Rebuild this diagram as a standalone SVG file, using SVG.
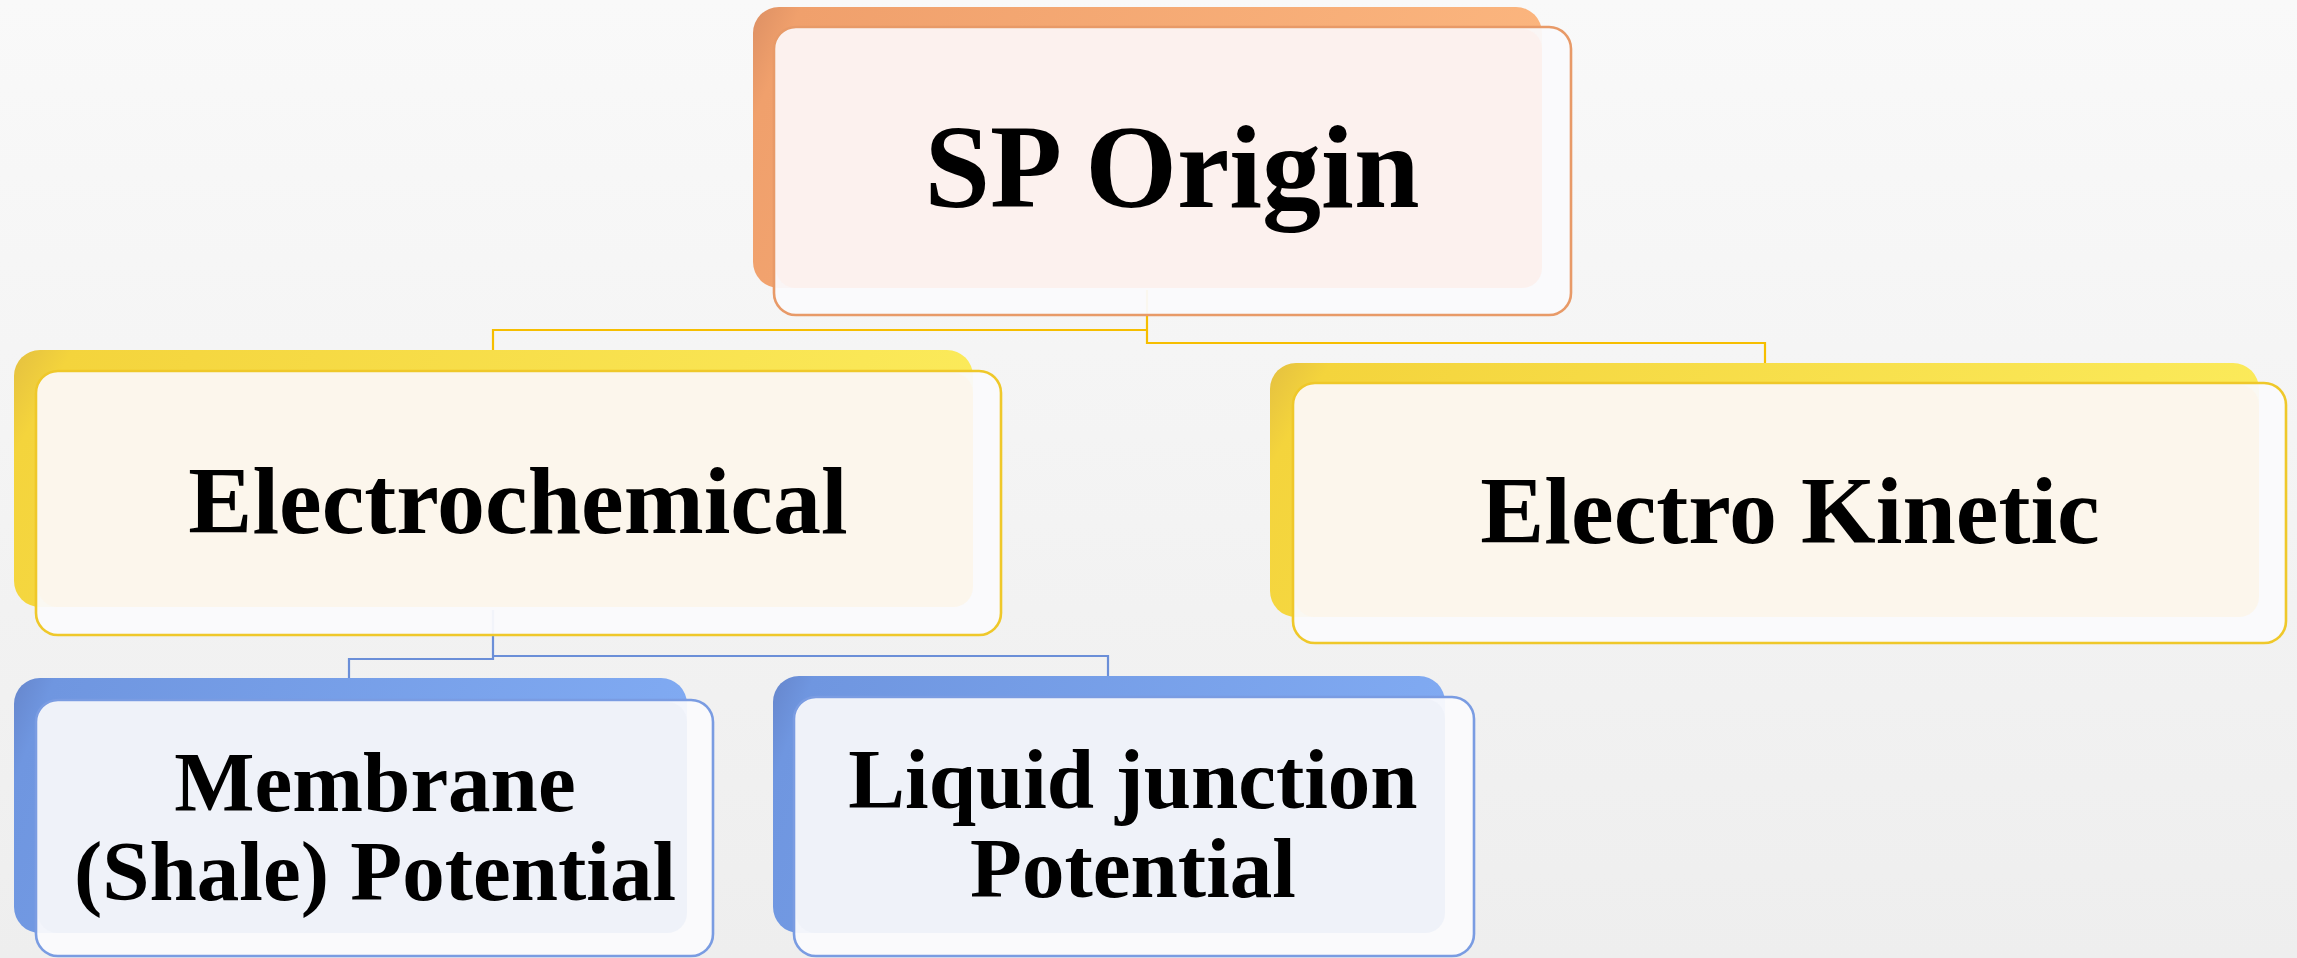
<svg xmlns="http://www.w3.org/2000/svg" width="2297" height="958" viewBox="0 0 2297 958">
<defs>
<linearGradient id="bg" x1="0" y1="0" x2="0" y2="1">
<stop offset="0" stop-color="#f9f9f9"/>
<stop offset="1" stop-color="#eeeeee"/>
</linearGradient>
<linearGradient id="gOr" x1="0" y1="0" x2="1" y2="0.15">
<stop offset="0" stop-color="#dd9064"/>
<stop offset="0.06" stop-color="#f0a06c"/>
<stop offset="1" stop-color="#fbb57e"/>
</linearGradient>
<linearGradient id="gYe" x1="0" y1="0" x2="1" y2="0.15">
<stop offset="0" stop-color="#e4c040"/>
<stop offset="0.06" stop-color="#f4d43c"/>
<stop offset="1" stop-color="#fbea5a"/>
</linearGradient>
<linearGradient id="gBl" x1="0" y1="0" x2="1" y2="0.15">
<stop offset="0" stop-color="#6686cc"/>
<stop offset="0.06" stop-color="#6f96e0"/>
<stop offset="1" stop-color="#80aaf2"/>
</linearGradient>
</defs>
<style>
.front{fill:#fafafc;fill-opacity:0.95;stroke-width:2.6}
.or{stroke:#e89a68}
.ye{stroke:#efc82a}
.bl{stroke:#7a9ce2}
.tOr{fill:#fcf0ed;fill-opacity:0.96}
.tYe{fill:#fcf6eb;fill-opacity:0.96}
.tBl{fill:#eef1f9;fill-opacity:0.96}
.lbl{font-family:"Liberation Serif","Times New Roman",serif;font-weight:bold;fill:#000;text-anchor:middle}
.cy{fill:none;stroke:#f6be00;stroke-width:2.2}
.cb{fill:none;stroke:#6b8fd8;stroke-width:2.2}
</style>
<rect x="0" y="0" width="2297" height="958" fill="url(#bg)"/>
<g id="connectors">
<path class="cy" d="M1147 290 V343 H1765 V363"/>
<path class="cy" d="M1147 330 H493 V350"/>
<path class="cb" d="M493 610 V659 H349 V678"/>
<path class="cb" d="M493 656 H1108 V676"/>
</g>
<g id="node-sp-origin">
<rect x="753" y="7" width="789" height="281" rx="26" fill="url(#gOr)"/>
<rect class="front or" x="774" y="27" width="797" height="288" rx="22"/>
<rect class="tOr" x="776" y="29" width="766" height="259" rx="20"/>
<text class="lbl" x="1172" y="207" font-size="118">SP Origin</text>
</g>
<g id="node-electrochemical">
<rect x="14" y="350" width="959" height="257" rx="26" fill="url(#gYe)"/>
<rect class="front ye" x="36" y="371" width="965" height="264" rx="22"/>
<rect class="tYe" x="38" y="373" width="935" height="234" rx="20"/>
<text class="lbl" x="518" y="533" font-size="96">Electrochemical</text>
</g>
<g id="node-electro-kinetic">
<rect x="1270" y="363" width="989" height="254" rx="26" fill="url(#gYe)"/>
<rect class="front ye" x="1293" y="383" width="993" height="260" rx="22"/>
<rect class="tYe" x="1295" y="385" width="964" height="232" rx="20"/>
<text class="lbl" x="1790" y="543" font-size="96">Electro Kinetic</text>
</g>
<g id="node-membrane">
<rect x="14" y="678" width="673" height="255" rx="26" fill="url(#gBl)"/>
<rect class="front bl" x="36" y="700" width="677" height="256" rx="22"/>
<rect class="tBl" x="38" y="702" width="649" height="231" rx="20"/>
<text class="lbl" font-size="85"><tspan x="375" y="811">Membrane</tspan><tspan x="375" y="900">(Shale) Potential</tspan></text>
</g>
<g id="node-liquid-junction">
<rect x="773" y="676" width="672" height="257" rx="26" fill="url(#gBl)"/>
<rect class="front bl" x="794" y="697" width="680" height="259" rx="22"/>
<rect class="tBl" x="796" y="699" width="649" height="234" rx="20"/>
<text class="lbl" font-size="85"><tspan x="1133" y="808">Liquid junction</tspan><tspan x="1133" y="897">Potential</tspan></text>
</g>
</svg>
